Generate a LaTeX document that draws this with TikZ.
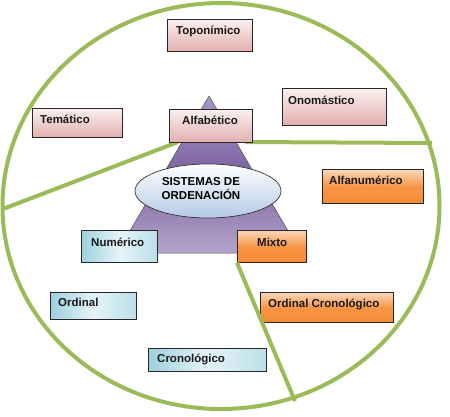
\documentclass[tikz,border=0pt]{standalone}
\usepackage{fontspec}
\setmainfont{Liberation Sans}
\usetikzlibrary{shapes.geometric}
\definecolor{lgreen}{HTML}{9BBB59}
\definecolor{pinkB}{HTML}{E2AFAE}
\definecolor{pinkT}{HTML}{FAF0F0}
\definecolor{orgB}{HTML}{F68A33}
\definecolor{orgT}{HTML}{FCD9BC}
\definecolor{bluB}{HTML}{9ED0DE}
\definecolor{bluT}{HTML}{E6F4F8}
\definecolor{purT}{HTML}{A497C6}
\definecolor{purM}{HTML}{7D62A0}
\definecolor{purB}{HTML}{B4A5CB}
\definecolor{ellB}{HTML}{B3CAE4}
\tikzset{
  box/.style={draw=black!85, line width=0.8pt, rectangle, inner sep=0pt, anchor=north west},
  pinkbox/.style={box, top color=pinkT, bottom color=pinkB},
  orgbox/.style={box, top color=orgT, bottom color=orgB, middle color=orgB!85!orgT},
  blubox/.style={box, shading angle=45, left color=bluB, right color=bluB!70, middle color=bluT},
  lbl/.style={anchor=base west, inner sep=0pt, text=black!90, font=\bfseries\fontsize{11.5}{13}\selectfont},
  gline/.style={draw=lgreen, line width=4pt},
}
\begin{document}
\begin{tikzpicture}[x=1pt,y=-1pt]
\useasboundingbox (0,0) rectangle (450,416);
% outer circle
\draw[gline] (221,206) ellipse [x radius=218.5, y radius=203];
% triangle
\path[draw=black!70, line width=0.5pt, top color=purT, bottom color=purB, middle color=purM]
  (209,96) -- (301,253) -- (117,253) -- cycle;
% central ellipse
\node[ellipse, draw=black!80, line width=0.7pt, top color=white, bottom color=ellB,
      minimum width=146, minimum height=54, inner sep=0pt] (core) at (208,191) {};
\node[anchor=base, inner sep=0pt, font=\bfseries\fontsize{11.5}{13}\selectfont] (core1) at (201,185) {SISTEMAS DE};
\node[anchor=base, inner sep=0pt, font=\bfseries\fontsize{11.5}{13}\selectfont] (core2) at (201,199) {ORDENACIÓN};
% boxes
\node[pinkbox, minimum width=85, minimum height=32] (topo) at (167,19) {};
\node[pinkbox, minimum width=90, minimum height=29] (tema) at (32,108) {};
\node[pinkbox, minimum width=104, minimum height=37] (onom) at (282,88) {};
\node[orgbox, minimum width=101, minimum height=34] (alfn) at (322,169) {};
\node[blubox, minimum width=76, minimum height=32] (nume) at (81,230) {};
\node[orgbox, minimum width=69, minimum height=32] (mixt) at (237,230) {};
\node[blubox, minimum width=86, minimum height=27] (ordi) at (50,292) {};
\node[orgbox, minimum width=133, minimum height=30] (ordc) at (260,292) {};
\node[blubox, minimum width=118, minimum height=23] (cron) at (148,348) {};
% green dividers
\coordinate (eR) at (432,143);
\coordinate (eL) at (3,209);
\coordinate (eB) at (295,401);
\coordinate (aSE) at (245,142);
\coordinate (aSW) at (178,142);
\draw[gline] (aSE) -- (eR);
\draw[gline] (aSW) -- (eL);
\draw[gline] (mixt.south west) -- (eB);
\node[pinkbox, minimum width=83, minimum height=33] (alfa) at (169,109) {};
% labels
\node[lbl] (topoT) at (176,34) {Toponímico};
\node[lbl] (temaT) at (40,123) {Temático};
\node[lbl] (alfaT) at (182,124) {Alfabético};
\node[lbl] (onomT) at (288,104) {Onomástico};
\node[lbl] (alfnT) at (329,184) {Alfanumérico};
\node[lbl] (numeT) at (91,246) {Numérico};
\node[lbl] (mixtT) at (257,246) {Mixto};
\node[lbl] (ordiT) at (58,306) {Ordinal};
\node[lbl] (ordcT) at (268,307) {Ordinal Cronológico};
\node[lbl] (cronT) at (157,362) {Cronológico};
\end{tikzpicture}
\end{document}
